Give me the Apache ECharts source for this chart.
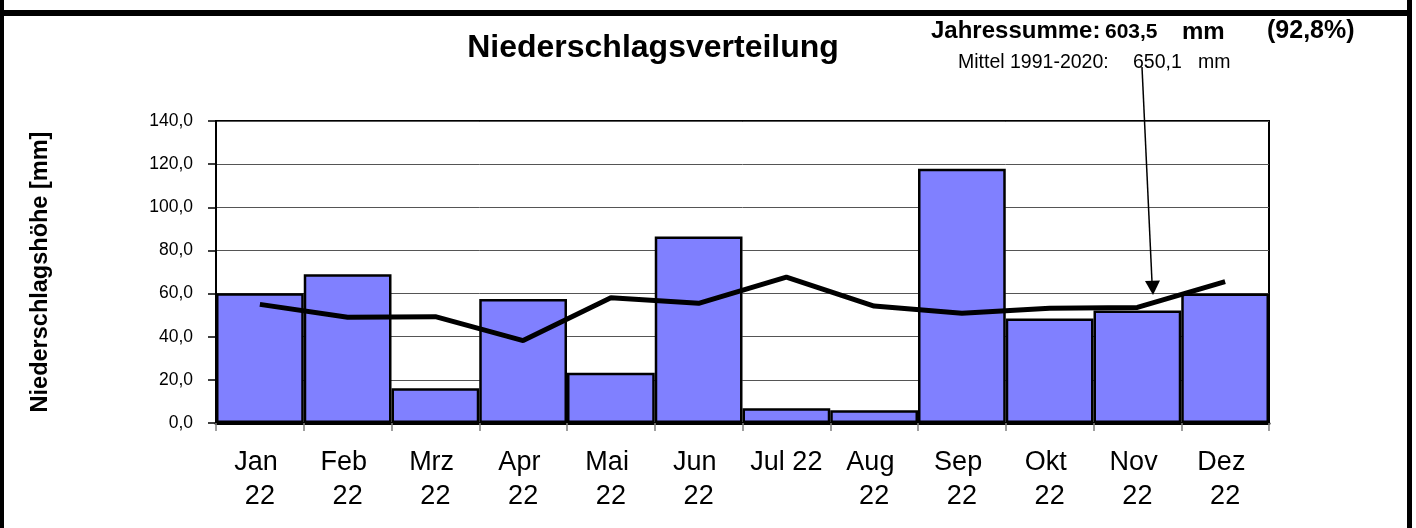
<!DOCTYPE html>
<html><head><meta charset="utf-8">
<script src="https://cdn.jsdelivr.net/npm/echarts@6.0.0/dist/echarts.min.js"></script>
<style>html,body{margin:0;padding:0;background:#fff}#c{width:1416px;height:528px}</style>
</head><body><div id="c"></div>
<script>
const categories = ['Jan 22','Feb 22','Mrz 22','Apr 22','Mai 22','Jun 22','Jul 22','Aug 22','Sep 22','Okt 22','Nov 22','Dez 22'];
const precipitation = [60.1, 69.0, 16.1, 57.5, 23.3, 86.4, 6.8, 5.9, 117.9, 48.4, 52.1, 60.0];
const mean19912020 = [55.0, 49.0, 49.3, 38.2, 58.1, 55.5, 67.6, 54.2, 50.9, 53.2, 53.6, 65.5];
const yMin = 0, yMax = 140, yStep = 20;
const titleText = 'Niederschlagsverteilung';
const yAxisTitle = 'Niederschlagshöhe [mm]';
const sumLabel = 'Jahressumme:', sumValue = '603,5', sumUnit = 'mm', sumPct = '(92,8%)';
const meanLabel = 'Mittel 1991-2020:', meanValue = '650,1', meanUnit = 'mm';

const chart = echarts.init(document.getElementById('c'), null, {renderer: 'canvas'});
const F = 'Arial, "Liberation Sans", sans-serif';
chart.setOption({
  animation: false,
  backgroundColor: '#fff',
  grid: {left: 216, top: 121, right: 147, bottom: 105, show: true, borderColor: '#000', borderWidth: 2, backgroundColor: 'transparent'},
  xAxis: {
    type: 'category', data: categories, boundaryGap: true,
    axisLine: {lineStyle: {color: '#000', width: 3}},
    axisTick: {show: true, length: 8, lineStyle: {color: '#808080', width: 1.5}},
    axisLabel: {color: '#000', fontFamily: F, fontSize: 27, lineHeight: 34, margin: 23, width: 75, overflow: 'break', interval: 0},
    splitLine: {show: false}
  },
  yAxis: {
    type: 'value', min: yMin, max: yMax, interval: yStep,
    name: yAxisTitle, nameLocation: 'middle', nameRotate: 90, nameGap: 163,
    nameTextStyle: {fontFamily: F, fontWeight: 'bold', fontSize: 23.5, color: '#000'},
    axisLine: {show: true, lineStyle: {color: '#000', width: 2}},
    axisTick: {show: true, length: 8, lineStyle: {color: '#000', width: 1.5}},
    axisLabel: {color: '#000', fontFamily: F, fontSize: 17.5, margin: 23, formatter: v => v.toFixed(1).replace('.', ',')},
    splitLine: {show: true, lineStyle: {color: '#555', width: 1}}
  },
  series: [
    {type: 'bar', data: precipitation, barCategoryGap: '0%', itemStyle: {color: '#8080FF', borderColor: '#000', borderWidth: 2.5}, z: 2},
    {type: 'line', data: mean19912020, symbol: 'none', lineStyle: {color: '#000', width: 5}, z: 3}
  ],
  graphic: [
    {type: 'rect', shape: {x: 0, y: 0, width: 4, height: 528}, style: {fill: '#000'}, z: 100},
    {type: 'rect', shape: {x: 1407, y: 0, width: 5, height: 528}, style: {fill: '#000'}, z: 100},
    {type: 'rect', shape: {x: 0, y: 10, width: 1412, height: 6}, style: {fill: '#000'}, z: 100},
    {type: 'text', x: 653, y: 48, style: {text: titleText, font: 'bold 32px ' + F, fill: '#000', textAlign: 'center', textVerticalAlign: 'middle'}, z: 100},
    {type: 'text', x: 931, y: 31, style: {text: sumLabel, font: 'bold 24px ' + F, fill: '#000', textAlign: 'left', textVerticalAlign: 'middle'}, z: 100},
    {type: 'text', x: 1105, y: 32, style: {text: sumValue, font: 'bold 21px ' + F, fill: '#000', textAlign: 'left', textVerticalAlign: 'middle'}, z: 100},
    {type: 'text', x: 1182, y: 32, style: {text: sumUnit, font: 'bold 24px ' + F, fill: '#000', textAlign: 'left', textVerticalAlign: 'middle'}, z: 100},
    {type: 'text', x: 1267, y: 31, style: {text: sumPct, font: 'bold 25px ' + F, fill: '#000', textAlign: 'left', textVerticalAlign: 'middle'}, z: 100},
    {type: 'text', x: 958, y: 63, style: {text: meanLabel, font: '19.5px ' + F, fill: '#000', textAlign: 'left', textVerticalAlign: 'middle'}, z: 100},
    {type: 'text', x: 1133, y: 63, style: {text: meanValue, font: '19.5px ' + F, fill: '#000', textAlign: 'left', textVerticalAlign: 'middle'}, z: 100},
    {type: 'text', x: 1198, y: 63, style: {text: meanUnit, font: '19.5px ' + F, fill: '#000', textAlign: 'left', textVerticalAlign: 'middle'}, z: 100},
    {type: 'line', shape: {x1: 1142, y1: 67, x2: 1152, y2: 282}, style: {stroke: '#000', lineWidth: 1.5}, z: 100},
    {type: 'polygon', shape: {points: [[1145, 281], [1160, 280.5], [1153, 295]]}, style: {fill: '#000'}, z: 100}
  ]
});
</script></body></html>
